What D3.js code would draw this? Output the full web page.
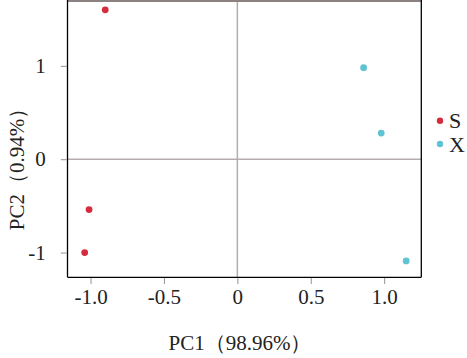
<!DOCTYPE html>
<html><head><meta charset="utf-8">
<script src="https://cdn.jsdelivr.net/npm/d3@7"></script>
<style>body{margin:0;background:#fff}svg{display:block}</style>
</head><body>
<svg id="c" width="467" height="358"></svg>
<script>
const groups = ["S","X"];
const colors = ["#d42c3c","#5ec3d2"];
const sPC1 = [-0.90,-1.01,-1.04];
const sPC2 = [1.60,-0.54,-1.00];
const xPC1 = [0.86,0.98,1.15];
const xPC2 = [0.98,0.28,-1.09];
const xTicks = [-1.0,-0.5,0,0.5,1.0];
const yTicks = [-1,0,1];
const xLabel = "PC1（98.96%）";
const yLabel = "PC2（0.94%）";

const svg = d3.select("#c");
const L=67.5,R=421.3,T=0.5,B=277.3;
const x = d3.scaleLinear().domain([-1.157,1.253]).range([L,R]);
const y = d3.scaleLinear().domain([-1.265,1.70]).range([B,T]);
const font = "'Liberation Serif','Times New Roman',serif";
const hy = s => s.replace("\u2212","-");

// zero lines
svg.append("line").attr("x1",x(0)).attr("x2",x(0)).attr("y1",T).attr("y2",B).attr("stroke","#b5adad").attr("stroke-width",1.5);
svg.append("line").attr("x1",L).attr("x2",R).attr("y1",y(0)).attr("y2",y(0)).attr("stroke","#b5adad").attr("stroke-width",1.5);

// frame
svg.append("line").attr("x1",L).attr("x2",R).attr("y1",1).attr("y2",1).attr("stroke","#8c8282").attr("stroke-width",2.2);
svg.append("line").attr("x1",L).attr("x2",L).attr("y1",0).attr("y2",B).attr("stroke","#000").attr("stroke-width",1.3);
svg.append("line").attr("x1",R).attr("x2",R).attr("y1",0).attr("y2",B).attr("stroke","#000").attr("stroke-width",1.3);
svg.append("line").attr("x1",L).attr("x2",R).attr("y1",B).attr("y2",B).attr("stroke","#000").attr("stroke-width",1.3);

// axes
const xa = svg.append("g").attr("transform",`translate(0,${B+0.7})`)
  .call(d3.axisBottom(x).tickValues(xTicks).tickSize(6).tickPadding(4).tickFormat(d=>d===0?"0":hy(d3.format(".1f")(d))));
xa.select(".domain").remove();
xa.selectAll("line").attr("stroke","#9a9090");
xa.selectAll("text").attr("font-family",font).attr("font-size",21).attr("fill","#222").attr("dy","0.75em");

const ya = svg.append("g").attr("transform",`translate(${L-0.7},0)`)
  .call(d3.axisLeft(y).tickValues(yTicks).tickSize(6).tickPadding(15).tickFormat(d=>hy(d3.format("d")(d))));
ya.select(".domain").remove();
ya.selectAll("line").attr("stroke","#9a9090");
ya.selectAll("text").attr("font-family",font).attr("font-size",21).attr("fill","#222");

// points
const pts = [];
sPC1.forEach((v,i)=>pts.push({g:0,px:v,py:sPC2[i]}));
xPC1.forEach((v,i)=>pts.push({g:1,px:v,py:xPC2[i]}));
svg.append("g").selectAll("circle").data(pts).join("circle")
  .attr("cx",d=>x(d.px)).attr("cy",d=>y(d.py)).attr("r",3.4)
  .attr("fill",d=>colors[d.g]);

// legend
const lg = svg.append("g");
groups.forEach((g,i)=>{
  const cy = 120.7 + i*23.3;
  lg.append("circle").attr("cx",440).attr("cy",cy).attr("r",3.2).attr("fill",colors[i]);
  lg.append("text").attr("x",449).attr("y",cy).attr("dy","0.35em").attr("font-family",font).attr("font-size",22).attr("fill","#222").text(g);
});

// axis titles
svg.append("text").attr("x",240).attr("y",350).attr("text-anchor","middle").attr("font-family",font).attr("font-size",21).attr("fill","#222").text(xLabel);
svg.append("text").attr("transform","translate(24,164) rotate(-90)").attr("text-anchor","middle").attr("font-family",font).attr("font-size",21).attr("fill","#222").text(yLabel);
</script>
</body></html>
